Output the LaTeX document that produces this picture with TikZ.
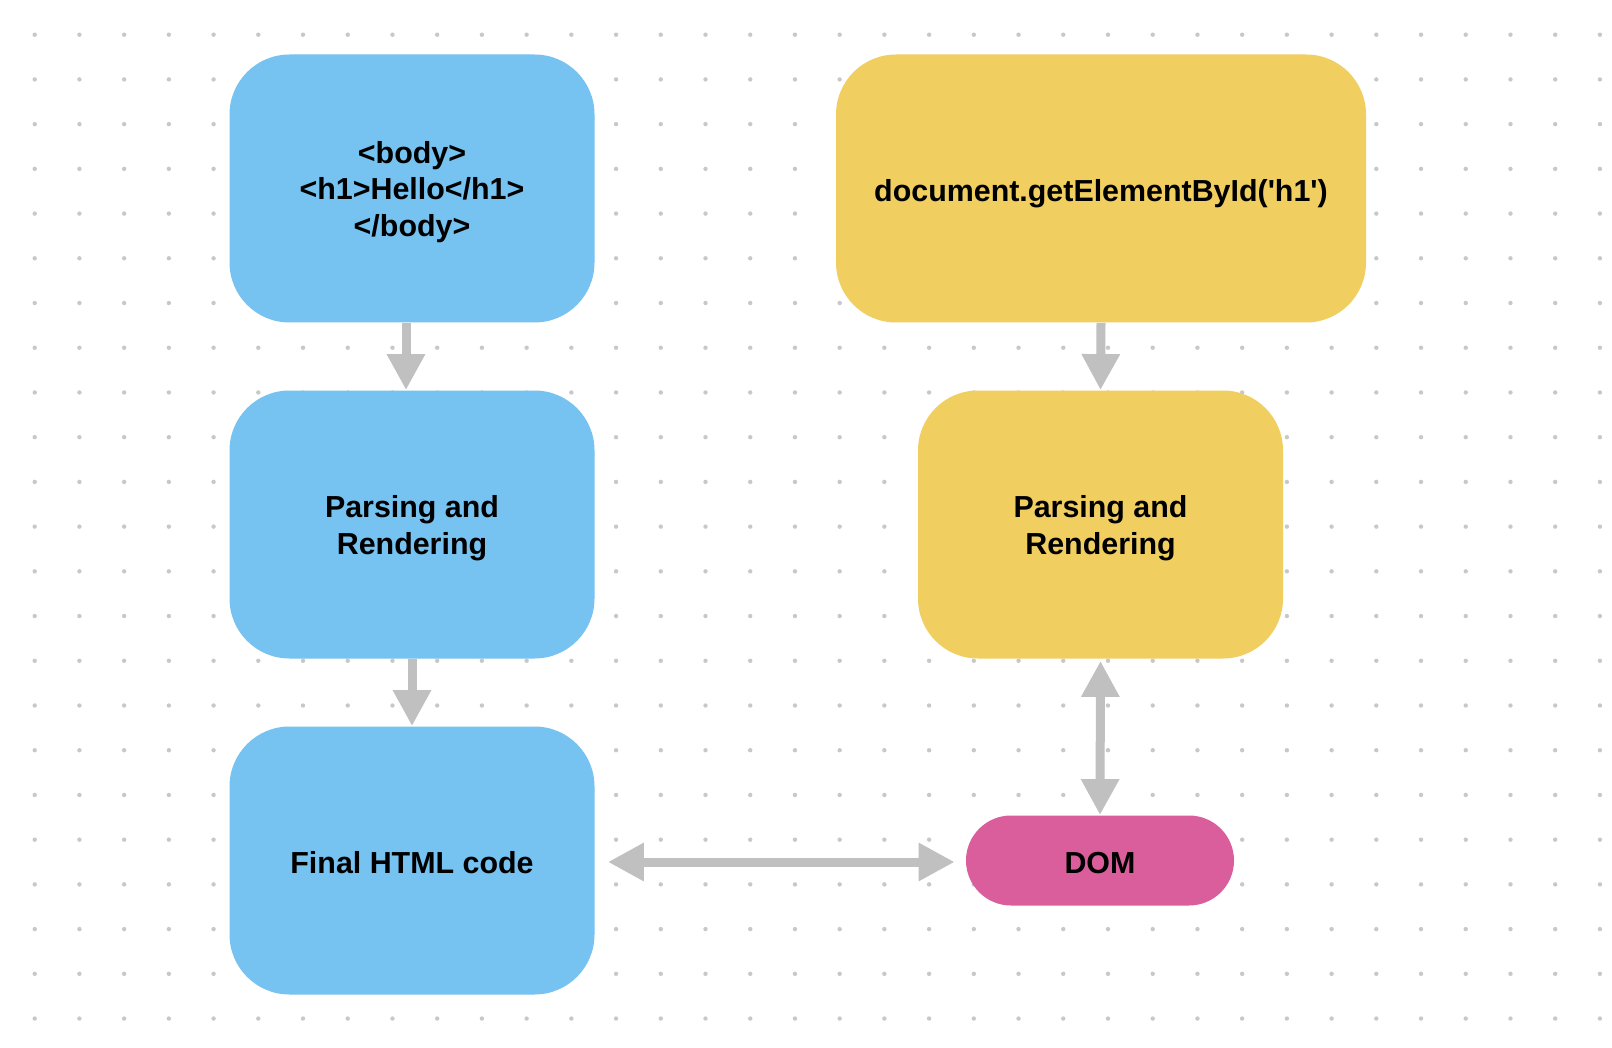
\documentclass[tikz,border=0pt]{standalone}
\usepackage{fontspec}
\newfontfamily\cardfont{Liberation Sans}
\usetikzlibrary{arrows.meta,calc}
\definecolor{boxblue}{RGB}{118,194,241}
\definecolor{boxyellow}{RGB}{240,206,96}
\definecolor{boxpink}{RGB}{218,94,155}
\definecolor{arrgray}{RGB}{192,192,192}
\definecolor{dotgray}{RGB}{200,200,200}
\newcommand{\cardtext}[2][4pt]{\raisebox{0pt}[\dimexpr\height+#1\relax][\depth]{\begin{tabular}{@{}c@{}}#2\end{tabular}}}
\tikzset{
  card/.style={rounded corners=30pt, inner sep=0pt, align=center,
    font=\cardfont\fontsize{15.2}{18.3}\selectfont\bfseries, text=black},
  bluecard/.style={card, fill=boxblue, minimum width=182.5pt, minimum height=134pt},
  yellowcard/.style={card, fill=boxyellow, minimum height=134pt},
  pinkpill/.style={card, fill=boxpink, rounded corners=22.5pt, minimum width=134pt, minimum height=45pt},
  conn/.style={draw=arrgray, line width=4.5pt, -{Triangle[length=18pt,width=18pt,fill=arrgray]}},
  dconn/.style={draw=arrgray, line width=4.5pt, {Triangle[length=18pt,width=18pt,fill=arrgray]}-{Triangle[length=18pt,width=18pt,fill=arrgray]}}
}
\begin{document}
\begin{tikzpicture}[x=0.5pt,y=-0.5pt]
\fill[white] (0,0) rectangle (1612,1048);
\useasboundingbox (0,0) rectangle (1612,1048);
\foreach \i in {0,...,35}{
  \foreach \j in {0,...,22}{
    \fill[dotgray] (34.7+44.72*\i,34.7+44.72*\j) circle[radius=1.1pt];
  }
}
\node[bluecard] (b1) at (412,188.5) {\cardtext{<body>\\<h1>Hello</h1>\\</body>}};
\node[bluecard] (b2) at (412,524.5) {\cardtext{Parsing and\\Rendering}};
\node[bluecard] (b3) at (412,860.5) {\cardtext[6pt]{Final HTML code}};
\node[yellowcard, minimum width=265pt] (y1) at (1101,188.5) {\cardtext[6pt]{document.getElementById('h1')}};
\node[yellowcard, minimum width=182.5pt] (y2) at (1100.5,524.5) {\cardtext{Parsing and\\Rendering}};
\node[pinkpill] (dom) at (1100,860.5) {\cardtext[6pt]{DOM}};

\draw[conn] ($(b1.south)+(-6,0)$) -- ($(b2.north)+(-6,0)$);
\draw[conn] (b2.south) -- (b3.north);
\draw[conn] (y1.south) -- (y2.north);
\draw[dconn] ($(y2.south)+(0,2)$) -- (dom.north);
\draw[dconn] ($(b3.east)+(13,1.5)$) -- ($(dom.west)+(-11,1.5)$);
\end{tikzpicture}
\end{document}
